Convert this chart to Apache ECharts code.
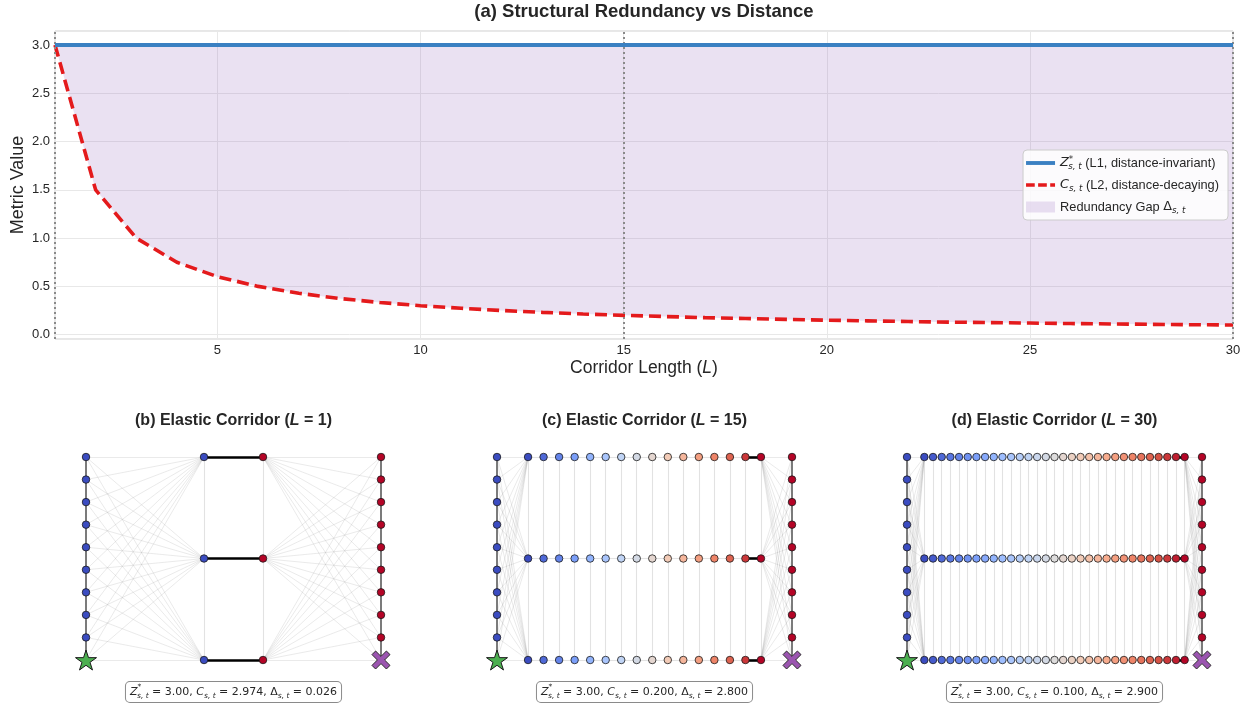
<!DOCTYPE html>
<html><head><meta charset="utf-8">
<script src="https://cdn.jsdelivr.net/npm/echarts@6/dist/echarts.min.js"></script>
<style>html,body{margin:0;padding:0;background:#fff}#c{width:1251px;height:707px}</style>
</head><body><div id="c"></div>
<script>
// ---------- data ----------
const lengths = [1,2,3,4,5,6,7,8,9,10,11,12,13,14,15,16,17,18,19,20,21,22,23,24,25,26,27,28,29,30];
const zValues = [3,3,3,3,3,3,3,3,3,3,3,3,3,3,3,3,3,3,3,3,3,3,3,3,3,3,3,3,3,3];
const cValues = [3.000,1.500,1.000,0.750,0.600,0.500,0.429,0.375,0.333,0.300,0.273,0.250,0.231,0.214,0.200,
                 0.188,0.176,0.167,0.158,0.150,0.143,0.136,0.130,0.125,0.120,0.115,0.111,0.107,0.103,0.100];
const markedLengths = [1, 15, 30];
const panelLetters = ['b', 'c', 'd'];
const panelLengths = [1, 15, 30];
const panelZ = [3.00, 3.00, 3.00];
const panelC = [2.974, 0.200, 0.100];
const panelDelta = [0.026, 2.800, 2.900];
const sideRows = [0,1,2,3,4,5,6,7,8,9];   // row 0 = s (left) / t (right)
const corridorRows = [0, 4.5, 9];
const sideGap = 2;

// ---------- styles ----------
const FONT = 'Liberation Sans';
const MATH = 'DejaVu Sans';
const gapColor = 'rgba(148,103,189,0.2)';
const coolwarmAnchors = ['#3b4cc0','#5977e3','#7b9ff9','#9ebeff','#c0d4f5','#dddcdc','#f2cbb7','#f7ac8e','#ee8468','#d65244','#b40426'];
function hex2rgb(h){return [parseInt(h.slice(1,3),16),parseInt(h.slice(3,5),16),parseInt(h.slice(5,7),16)];}
function coolwarm(t){
  const s = Math.max(0, Math.min(1, t)) * (coolwarmAnchors.length - 1);
  const k = Math.min(coolwarmAnchors.length - 2, Math.floor(s));
  const f = s - k;
  const a = hex2rgb(coolwarmAnchors[k]), b = hex2rgb(coolwarmAnchors[k+1]);
  return 'rgb(' + a.map((v,j)=>Math.round(v + (b[j]-v)*f)).join(',') + ')';
}
const blueNode = '#3b4cc0', redNode = '#b40426';
const edgeStyles = {
  side: {color:'rgba(90,90,90,0.8)', width:2},
  fan:  {color:'rgba(160,160,160,0.28)', width:0.8},
  grid: {color:'rgba(180,180,180,0.38)', width:1.1},
  key:  {color:'#000', width:2.6}
};
const starPath = 'path://M50,0L61.23,34.55L97.55,34.55L68.17,55.9L79.39,90.45L50,69.1L20.61,90.45L31.83,55.9L2.45,34.55L38.77,34.55Z';
const xPath = 'path://M0,20L20,0L50,30L80,0L100,20L70,50L100,80L80,100L50,70L20,100L0,80L30,50Z';
const solidIcon = 'path://M0,0H30V4H0Z';
const dashIcon = 'path://M0,0H9V3.6H0ZM12.5,0H21.5V3.6H12.5ZM25,0H30V3.6H25Z';

const mathRich = (fs) => ({
  mi:  {fontFamily:MATH, fontStyle:'italic', fontSize:fs, lineHeight:16, fill:'#262626', color:'#262626'},
  mr:  {fontFamily:MATH, fontSize:fs, lineHeight:16, fill:'#262626', color:'#262626'},
  sup: {fontFamily:MATH, fontSize:fs*0.68, lineHeight:8, verticalAlign:'top', padding:[0,-fs*0.38,0,0], fill:'#262626', color:'#262626'},
  sub: {fontFamily:MATH, fontStyle:'italic', fontSize:fs*0.68, lineHeight:8, verticalAlign:'bottom', fill:'#262626', color:'#262626'}
});

// ---------- panel (a) ----------
const cData = lengths.map((L,i)=>[L, cValues[i]]);
const zData = lengths.map((L,i)=>[L, zValues[i]]);
const gapData = lengths.map((L,i)=>[L, cValues[i], zValues[i]]);

const grids = [{left:55, top:31, right:18, bottom:368, show:true, borderColor:'#cfcfcf', borderWidth:1, backgroundColor:'#fff', outerBoundsMode:'none'}];
const xAxes = [{
  type:'value', gridIndex:0, min:1, max:30, minInterval:5, maxInterval:5,
  axisLine:{show:false}, axisTick:{show:false},
  splitLine:{show:true, lineStyle:{color:'#e8e8e8', width:1}},
  axisLabel:{showMinLabel:false, color:'#262626', fontFamily:FONT, fontSize:13, margin:5},
  name:'Corridor Length ({mi|L})', nameLocation:'middle', nameGap:20, nameMoveOverlap:false,
  nameTextStyle:{fontFamily:FONT, fontSize:17.5, color:'#262626', rich:{mi:{fontFamily:FONT, fontStyle:'italic', fontSize:17.5, color:'#262626'}}}
}];
const yAxes = [{
  type:'value', gridIndex:0, min:-0.045, max:3.145, minInterval:0.5, maxInterval:0.5,
  axisLine:{show:false}, axisTick:{show:false},
  splitLine:{show:true, lineStyle:{color:'#e8e8e8', width:1}},
  axisLabel:{showMinLabel:false, showMaxLabel:false, color:'#262626', fontFamily:FONT, fontSize:13, margin:5,
    formatter:(v)=>v.toFixed(1)},
  name:'Metric Value', nameLocation:'middle', nameGap:28, nameMoveOverlap:false,
  nameTextStyle:{fontFamily:FONT, fontSize:18, color:'#262626'}
}];
const series = [
  {name:'Gap', type:'custom', xAxisIndex:0, yAxisIndex:0, data:gapData, z:2, silent:true,
   itemStyle:{color:gapColor},
   renderItem:(params, api) => {
     if (params.dataIndex !== 0) return null;
     const top = gapData.map(d => api.coord([d[0], d[2]]));
     const bottom = gapData.map(d => api.coord([d[0], d[1]])).reverse();
     return {type:'polygon', shape:{points: top.concat(bottom)}, style:{fill:gapColor}};
   }},
  {name:'C', type:'line', xAxisIndex:0, yAxisIndex:0, data:cData, symbol:'none', z:4,
   lineStyle:{color:'#e41a1c', width:3.6, type:[12,6]}, itemStyle:{color:'#e41a1c'}},
  {name:'Z', type:'line', xAxisIndex:0, yAxisIndex:0, data:zData, symbol:'none', z:5,
   lineStyle:{color:'#3a80c2', width:3.8}, itemStyle:{color:'#3a80c2'},
   markLine:{silent:true, symbol:'none', label:{show:false}, animation:false,
     lineStyle:{color:'#8a8a8a', width:2, type:[2,3]},
     data: markedLengths.map(v=>({xAxis:v}))}}
];

// ---------- panels (b)-(d) ----------
const graphics = [];
const panelLeft = [86, 497, 907];
panelLengths.forEach((L, p) => {
  const gi = p + 1;
  const xS = 0, xT = L + 2*sideGap;
  const xC = (i) => sideGap + i;
  grids.push({left:panelLeft[p], top:457, width:295, height:203, show:false, outerBoundsMode:'none'});
  xAxes.push({type:'value', gridIndex:gi, min:xS, max:xT, show:false, splitLine:{show:false}});
  yAxes.push({type:'value', gridIndex:gi, min:sideRows[0], max:sideRows[sideRows.length-1], show:false, splitLine:{show:false}});

  const edges = [];
  const add = (a, b, kind) => edges.push({coords:[a,b], lineStyle:edgeStyles[kind]});
  sideRows.forEach(r => corridorRows.forEach(c => {
    add([xS, r], [xC(0), c], 'fan');
    add([xC(L), c], [xT, r], 'fan');
  }));
  for (let i = 0; i <= L; i++) for (let k = 0; k < corridorRows.length-1; k++)
    add([xC(i), corridorRows[k]], [xC(i), corridorRows[k+1]], 'grid');
  for (let i = 0; i < L; i++) corridorRows.forEach(c =>
    add([xC(i), c], [xC(i+1), c], i === L-1 ? 'key' : 'grid'));
  for (let k = 0; k < sideRows.length-1; k++) {
    add([xS, sideRows[k]], [xS, sideRows[k+1]], 'side');
    add([xT, sideRows[k]], [xT, sideRows[k+1]], 'side');
  }
  edges.sort((a,b)=> (a.lineStyle===edgeStyles.key) - (b.lineStyle===edgeStyles.key));
  series.push({type:'lines', coordinateSystem:'cartesian2d', xAxisIndex:gi, yAxisIndex:gi, polyline:false,
    data:edges, z:2, silent:true, animation:false, clip:false, symbol:'none', lineStyle:{opacity:1}});

  const nodes = [];
  sideRows.slice(1).forEach(r => {
    nodes.push({value:[xS, r], itemStyle:{color:blueNode}});
    nodes.push({value:[xT, r], itemStyle:{color:redNode}});
  });
  for (let i = 0; i <= L; i++) corridorRows.forEach(c =>
    nodes.push({value:[xC(i), c], itemStyle:{color:coolwarm(i / L)}}));
  series.push({type:'scatter', xAxisIndex:gi, yAxisIndex:gi, data:nodes, symbol:'circle', symbolSize:7.5, z:4,
    clip:false, silent:true, animation:false, itemStyle:{borderColor:'#1a1a1a', borderWidth:0.8, opacity:1}});
  series.push({type:'scatter', xAxisIndex:gi, yAxisIndex:gi, data:[[xS, sideRows[0]]], symbol:starPath, symbolSize:21,
    symbolKeepAspect:true, z:5, clip:false, silent:true, animation:false,
    itemStyle:{color:'#4caf50', borderColor:'#1a1a1a', borderWidth:1, opacity:1}});
  series.push({type:'scatter', xAxisIndex:gi, yAxisIndex:gi, data:[[xT, sideRows[0]]], symbol:xPath, symbolSize:18,
    symbolKeepAspect:true, z:5, clip:false, silent:true, animation:false,
    itemStyle:{color:'#9b55b0', borderColor:'#2a2a2a', borderWidth:1, opacity:1}});

  const cx = panelLeft[p] + 295/2;
  graphics.push({type:'text', x:cx, y:421, silent:true, style:{
    text:'(' + panelLetters[p] + ') Elastic Corridor ({mi|L} = ' + L + ')',
    fontFamily:FONT, fontWeight:'bold', fontSize:16, fill:'#262626', align:'center', verticalAlign:'middle',
    rich:{mi:{fontFamily:FONT, fontStyle:'italic', fontWeight:'bold', fontSize:16, fill:'#262626'}}}});
  graphics.push({type:'text', x:cx, y:692, silent:true, style:{
    text:'{mi|Z}{sup|*}{sub|s, t} = ' + panelZ[p].toFixed(2) + ', {mi|C}{sub|s, t} = ' + panelC[p].toFixed(3) +
         ', {mr|Δ}{sub|s, t} = ' + panelDelta[p].toFixed(3),
    fontFamily:MATH, fontSize:11, lineHeight:16, fill:'#262626', align:'center', verticalAlign:'middle',
    backgroundColor:'#fff', borderColor:'#8a8a8a', borderWidth:1, borderRadius:4, padding:[2,4,2,4],
    rich:mathRich(11)}});
});

graphics.push({type:'text', x:644, y:12, silent:true, style:{
  text:'(a) Structural Redundancy vs Distance', fontFamily:FONT, fontWeight:'bold', fontSize:18.5,
  fill:'#262626', align:'center', verticalAlign:'middle'}});

const legendNames = {
  Z:'{mi|Z}{sup|*}{sub|s, t} (L1, distance-invariant)',
  C:'{mi|C}{sub|s, t} (L2, distance-decaying)',
  Gap:'Redundancy Gap {mr|Δ}{sub|s, t}'
};

const option = {
  backgroundColor:'#fff',
  animation:false,
  grid:grids, xAxis:xAxes, yAxis:yAxes, series:series, graphic:graphics,
  legend:{
    orient:'vertical', right:23, top:150, itemWidth:29, itemHeight:11, itemGap:6,
    backgroundColor:'rgba(255,255,255,0.85)', borderColor:'#cccccc', borderWidth:1, borderRadius:4, padding:[5,9,5,3],
    symbolKeepAspect:true,
    data:[{name:'Z', icon:solidIcon},{name:'C', icon:dashIcon},{name:'Gap', icon:'rect', itemStyle:{color:gapColor}}],
    formatter:(n)=>legendNames[n],
    textStyle:{fontFamily:FONT, fontSize:12.8, color:'#262626', lineHeight:16, rich:mathRich(12.8)}
  }
};
const chart = echarts.init(document.getElementById('c'), null, {renderer:'canvas', width:1251, height:707});
chart.setOption(option);
</script></body></html>
